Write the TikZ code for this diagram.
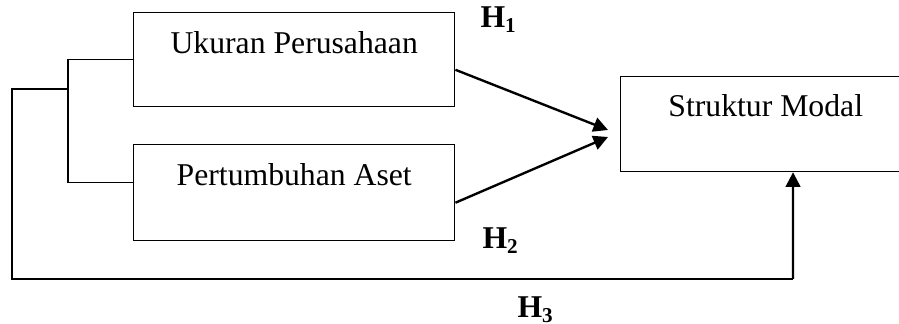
\documentclass[tikz,border=0pt]{standalone}
\usepackage{fontspec}
\setmainfont{Liberation Serif}
\usetikzlibrary{arrows.meta}
\begin{document}
\begin{tikzpicture}[x=0.3785pt,y=-0.3785pt,
var/.style={draw=black,line width=0.55pt,rectangle,inner sep=0pt,anchor=north west,minimum width=121.5pt,text height=15.5pt,text depth=20.5pt,font=\fontsize{12pt}{14pt}\selectfont},
hyp/.style={inner sep=0pt,anchor=base west,font=\fontsize{12pt}{14pt}\selectfont\bfseries},
link/.style={line width=0.55pt},
arr/.style={line width=0.9pt,-{Triangle[length=5.5pt,width=5.5pt]}}]
\useasboundingbox (0,0) rectangle (899,324);
\def\off{3.8pt};
\node[var,text depth=20.1pt] (ukuran) at (133,12) {Ukuran Perusahaan};
\node[var,text depth=20.8pt] (aset) at (133,144) {Pertumbuhan Aset};
\node[var,minimum width=109.8pt,text height=15.1pt,text depth=20.8pt] (modal) at (620,76) {Struktur Modal};
\node[hyp] (h1) at (480,28) {H\textsubscript{1}};
\node[hyp] (h2) at (482,249) {H\textsubscript{2}};
\node[hyp] (h3) at (517,318) {H\textsubscript{3}};
\coordinate (tip1) at (608,130);
\coordinate (tip2) at (608,137);
\coordinate (fork) at (68,89);
\coordinate (corner) at (793,279);
\coordinate (in3) at ([xshift=65.5pt]modal.south west);
\draw[arr] ([yshift=-\off]ukuran.east) -- (tip1);
\draw[arr] ([yshift=-\off]aset.east) -- (tip2);
\draw[link] (ukuran.west) -- ++(-65,0) |- ([yshift=\off]aset.west);
\draw[link] (fork) -- (12,89) |- (corner);
\draw[arr] (corner) -- (in3);
\end{tikzpicture}
\end{document}
